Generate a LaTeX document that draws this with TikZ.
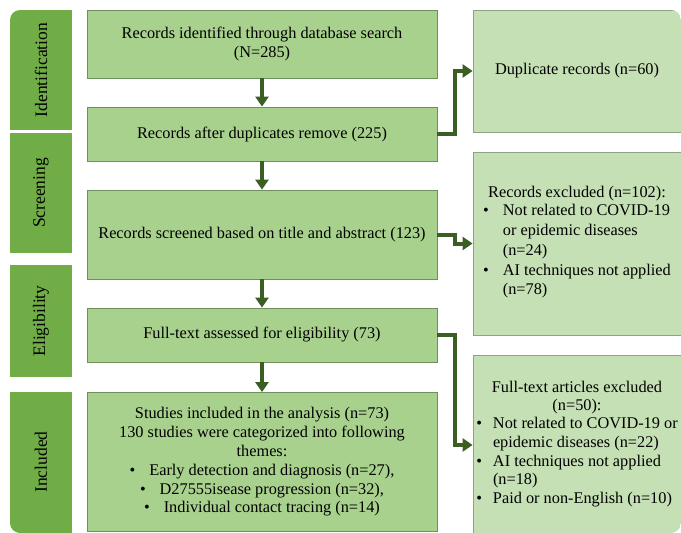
\documentclass[tikz,border=0pt]{standalone}
\usepackage{xcolor}
\usepackage{fontspec}
\setmainfont{Liberation Serif}
\usetikzlibrary{arrows.meta}

\definecolor{boxgreen}{HTML}{A9D18E}
\definecolor{palegreen}{HTML}{C5E0B4}
\definecolor{tabgreen}{HTML}{70AD47}
\definecolor{arrowgreen}{HTML}{3B5E23}
\definecolor{edgegreen}{HTML}{6F8F5E}
\definecolor{edgegray}{HTML}{8CA387}

\begin{document}
\begin{tikzpicture}[x=1pt, y=-1pt,
  every node/.style={inner sep=0pt, font=\fontsize{16.3}{18.8}\selectfont},
  mainbox/.style={draw=edgegreen, line width=0.8pt, fill=boxgreen, minimum width=350, align=center},
  sidebox/.style={draw=edgegray, line width=0.8pt, fill=palegreen, minimum width=208, align=center},
  phase/.style={fill=tabgreen, minimum height=62, rotate=90, font=\fontsize{17.5}{20}\selectfont},
  flow/.style={draw=arrowgreen, line width=4pt, -{Triangle[width=13pt,length=10pt]}}
]
\useasboundingbox (0,0) rectangle (681,533);
\clip[rounded corners=10pt] (10,10) rectangle (681,533);

\node[phase, minimum width=120] (identification) at (41,70) {Identification};
\node[phase, minimum width=120] (screening) at (41,193) {Screening};
\node[phase, minimum width=112] (eligibility) at (41,321) {Eligibility};
\node[phase, minimum width=141] (included) at (41,462) {Included};

\node[mainbox, minimum height=68] (found) at (262,44) {Records identified through database search\\(N=285)};
\node[mainbox, minimum height=54] (dedup) at (262,134) {Records after duplicates remove (225)};
\node[mainbox, minimum height=89] (screened) at (262,234.5) {Records screened based on title and abstract (123)};
\node[mainbox, minimum height=54] (fulltext) at (262,335) {Full-text assessed for eligibility (73)};
\node[mainbox, minimum height=139] (studies) at (262,462) {Studies included in the analysis (n=73)\\
  130 studies were categorized into following\\ themes:\\
  \textbullet\hspace{14pt}Early detection and diagnosis (n=27),\\
  \textbullet\hspace{14pt}D27555isease progression (n=32),\\
  \textbullet\hspace{14pt}Individual contact tracing (n=14)};

\node[sidebox, minimum height=122] (dup) at (577,71) {Duplicate records (n=60)};
\node[sidebox, minimum height=183] (excluded) at (577,243.5) {Records excluded (n=102):\\
  \renewcommand\arraystretch{1.05}%
  \begin{tabular}{@{}l@{\hspace{14pt}}l@{}}
  \textbullet & Not related to COVID-19\\
              & or epidemic diseases\\
              & (n=24)\\
  \textbullet & AI techniques not applied\\
              & (n=78)
  \end{tabular}};
\node[sidebox, minimum height=180] (ftexcluded) at (577,445) {Full-text articles excluded\\(n=50):\\
  \begin{tabular}{@{}l@{\hspace{11pt}}l@{}}
  \textbullet & Not related to COVID-19 or\\
              & epidemic diseases (n=22)\\
  \textbullet & AI techniques not applied\\
              & (n=18)\\
  \textbullet & Paid or non-English (n=10)
  \end{tabular}};

\draw[flow] (found) -- (dedup);
\draw[flow] (dedup) -- (screened);
\draw[flow] (screened) -- (fulltext);
\draw[flow] (fulltext) -- (studies);
\draw[flow] (dedup.east) -- ++(18,0) |- (dup.west);
\draw[flow] (screened.east) -- ++(18,0) |- (excluded.west);
\draw[flow] (fulltext.east) -- ++(18,0) |- (ftexcluded.west);
\end{tikzpicture}
\end{document}
